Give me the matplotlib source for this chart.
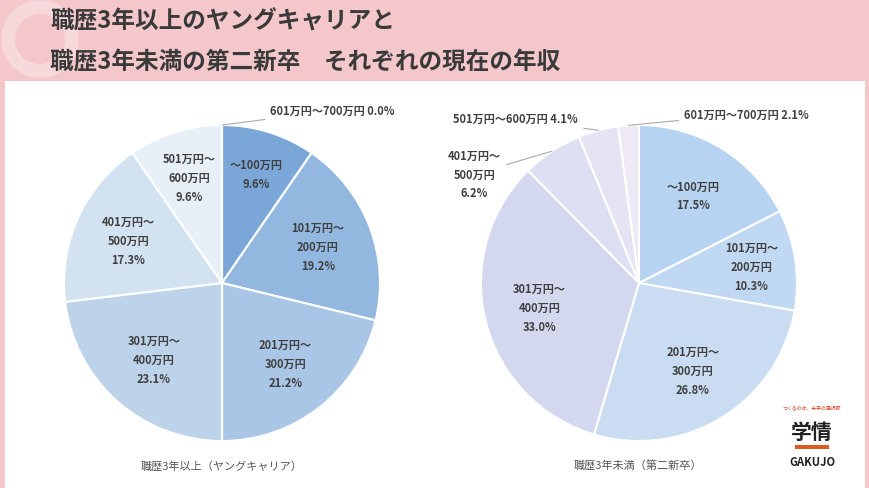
import matplotlib
matplotlib.use("Agg")
import matplotlib.pyplot as plt
from matplotlib.patches import Rectangle, Circle
import numpy as np

plt.rcParams['font.family'] = ['Noto Sans CJK JP', 'DejaVu Sans']

left_labels = ["～100万円\n9.6%", "101万円～\n200万円\n19.2%", "201万円～\n300万円\n21.2%",
               "301万円～\n400万円\n23.1%", "401万円～\n500万円\n17.3%", "501万円～\n600万円\n9.6%",
               "601万円～700万円 0.0%"]
left_values = [9.6, 19.2, 21.2, 23.1, 17.3, 9.6, 0.0]
left_colors = ["#7ba7d8", "#93b8e0", "#a9c6e6", "#bcd3ea", "#d3e2f0", "#e7eff7", "#f4f8fb"]

right_labels = ["～100万円\n17.5%", "101万円～\n200万円\n10.3%", "201万円～\n300万円\n26.8%",
                "301万円～\n400万円\n33.0%", "401万円～\n500万円\n6.2%", "501万円～600万円 4.1%",
                "601万円～700万円 2.1%"]
right_values = [17.5, 10.3, 26.8, 33.0, 6.2, 4.1, 2.1]
right_colors = ["#b6d3f2", "#c1d8f2", "#c9dcf2", "#d3d8ef", "#dddff2", "#e6e4f4", "#efe9f5"]

fig = plt.figure(figsize=(8.7, 4.89), dpi=100)
fig.patch.set_facecolor("#f4c7cb")
bg = fig.add_axes([0, 0, 1, 1]); bg.axis("off"); bg.set_xlim(0, 870); bg.set_ylim(489, 0)
bg.add_patch(Circle((40, 40), 32, facecolor="none", edgecolor="#f7d8db", lw=10))
bg.add_patch(Rectangle((5, 82), 860, 407, facecolor="white", edgecolor="none"))
bg.text(50, 22, "職歴3年以上のヤングキャリアと", fontsize=17, fontweight="bold", color="#3a3a3a", va="center")
bg.text(50, 62, "職歴3年未満の第二新卒　それぞれの現在の年収", fontsize=17, fontweight="bold", color="#3a3a3a", va="center")
bg.text(222, 466, "職歴3年以上（ヤングキャリア）", fontsize=8, color="#555", ha="center", va="center")
bg.text(638, 466, "職歴3年未満（第二新卒）", fontsize=8, color="#555", ha="center", va="center")
bg.text(812, 409, "つくるのは、未来の選択肢", fontsize=3.5, color="#d04020", ha="center")
bg.text(812, 432, "学情", fontsize=15, fontweight="bold", color="#222", ha="center", va="center")
bg.text(812, 462, "GAKUJO", fontsize=8, fontweight="bold", color="#222", ha="center", va="center")
bg.add_patch(Rectangle((795, 446), 34, 4, facecolor="#e05a20"))

R = 158 / 489 * 4.89  # radius in inches

def draw(ax, vals, cols, labels, outside_idx, outside_pos, r_in):
    wedges, _ = ax.pie(vals, colors=cols, startangle=90, counterclock=False,
                       wedgeprops=dict(edgecolor="white", linewidth=1.5))
    for i, (w, lab) in enumerate(zip(wedges, labels)):
        ang = np.deg2rad((w.theta1 + w.theta2) / 2)
        if i in outside_idx:
            tx, ty = outside_pos[i]
            ax.annotate(lab, xy=(np.cos(ang), np.sin(ang)), xytext=(tx, ty), fontsize=8, fontweight="bold",
                        color="#404040", ha="center", va="center", linespacing=1.6,
                        arrowprops=dict(arrowstyle="-", color="#aaa", lw=0.8, shrinkA=2, shrinkB=0))
        else:
            r = r_in.get(i, 0.65)
            ax.text(r * np.cos(ang), r * np.sin(ang), lab, fontsize=8, fontweight="bold", color="#404040",
                    ha="center", va="center", linespacing=1.6)
    ax.set_xlim(-1, 1); ax.set_ylim(-1, 1)
    ax.set_aspect("equal")

h = 2 * R / 4.89; w = 2 * R / 8.7
ax1 = fig.add_axes([(222 - 158) / 870, (489 - 284 - 158) / 489, w, h])
draw(ax1, left_values, left_colors, left_labels, [6], {6: (0.7, 1.09)}, {0: 0.72, 5: 0.7})
ax2 = fig.add_axes([(639 - 158) / 870, (489 - 284 - 158) / 489, w, h])
draw(ax2, right_values, right_colors, right_labels, [4, 5, 6],
     {4: (-1.04, 0.69), 5: (-0.78, 1.04), 6: (0.68, 1.07)}, {1: 0.72})
for a in (ax1, ax2):
    for t in a.texts:
        t.set_clip_on(False)

fig.savefig("out.png", dpi=100, facecolor=fig.get_facecolor())
